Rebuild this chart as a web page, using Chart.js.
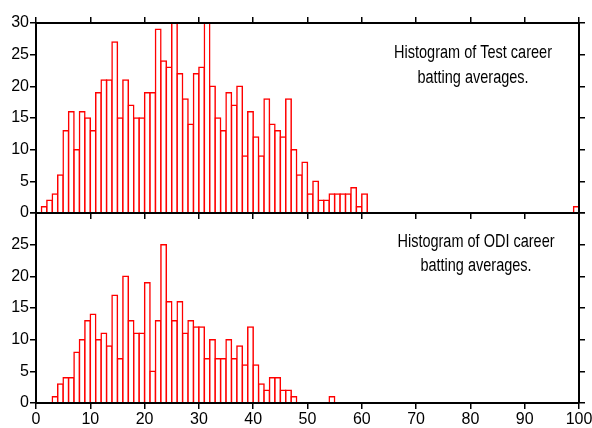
<!DOCTYPE html>
<html>
<head>
<meta charset="utf-8">
<script src="https://cdn.jsdelivr.net/npm/chart.js@4/dist/chart.umd.min.js"></script>
<style>
  html, body { margin: 0; background: #fff; }
  #wrap { position: relative; width: 592px; height: 428px; }
  #wrap canvas { position: absolute; left: 0; top: 0; }
</style>
</head>
<body>
<div id="wrap">
  <canvas id="graficoTest" width="592" height="428"></canvas>
  <canvas id="graficoOdi" width="592" height="428"></canvas>
</div>
<script>
// one bin per unit of batting average, 0..100
const bins = Array.from({ length: 100 }, (_, i) => i + 0.5);

const testCounts = [
  0, 1, 2, 3, 6, 13, 16, 10, 16, 15,
  13, 19, 21, 21, 27, 15, 21, 17, 15, 15,
  19, 19, 29, 24, 23, 30, 22, 18, 14, 22,
  23, 30, 20, 15, 13, 19, 17, 20, 9, 16,
  12, 9, 18, 14, 13, 12, 18, 10, 6, 8,
  3, 5, 2, 2, 3, 3, 3, 3, 4, 1,
  3, 0, 0, 0, 0, 0, 0, 0, 0, 0,
  0, 0, 0, 0, 0, 0, 0, 0, 0, 0,
  0, 0, 0, 0, 0, 0, 0, 0, 0, 0,
  0, 0, 0, 0, 0, 0, 0, 0, 0, 1
];

const odiCounts = [
  0, 0, 0, 1, 3, 4, 4, 8, 10, 13,
  14, 10, 11, 9, 17, 7, 20, 13, 11, 11,
  19, 5, 13, 25, 16, 13, 16, 11, 13, 12,
  12, 7, 10, 7, 7, 10, 7, 9, 6, 12,
  6, 3, 2, 4, 4, 2, 2, 1, 0, 0,
  0, 0, 0, 0, 1, 0, 0, 0, 0, 0,
  0, 0, 0, 0, 0, 0, 0, 0, 0, 0,
  0, 0, 0, 0, 0, 0, 0, 0, 0, 0,
  0, 0, 0, 0, 0, 0, 0, 0, 0, 0,
  0, 0, 0, 0, 0, 0, 0, 0, 0, 0
];

const xTicks = [0, 10, 20, 30, 40, 50, 60, 70, 80, 90, 100];
const yTicks = [0, 5, 10, 15, 20, 25, 30];

const testTitle = ["Histogram of Test career", "batting averages."];
const odiTitle = ["Histogram of ODI career", "batting averages."];

const FONT = '"Liberation Sans", Arial, sans-serif';
Chart.defaults.font.family = FONT;
Chart.defaults.font.size = 16;
Chart.defaults.color = "#000";

// texto dentro del panel (algo estirado en vertical, como el original)
const rotulo = {
  id: "rotulo",
  afterDraw(chart, args, opts) {
    const { ctx, chartArea } = chart;
    ctx.save();
    ctx.font = "14.5px " + FONT;
    ctx.fillStyle = "#000";
    ctx.textAlign = "center";
    ctx.textBaseline = "middle";
    opts.lines.forEach((t, i) => {
      ctx.save();
      ctx.translate(chartArea.right - opts.dx, chartArea.top + opts.dy + i * opts.gap);
      ctx.scale(1, 1.3);
      ctx.fillText(t, 0, 0);
      ctx.restore();
    });
    ctx.restore();
  }
};

function eje(pos, size, extra) {
  return Object.assign({
    type: "linear",
    position: pos,
    offset: false,
    grid: { offset: false, drawOnChartArea: false, color: "#000", tickLength: 6, lineWidth: 1.5 },
    border: { color: "#000", width: 2, z: 1 },
    afterFit(s) {
      if (s.isHorizontal()) s.height = size; else s.width = size;
      s.paddingLeft = s.paddingRight = s.paddingTop = s.paddingBottom = 0;
    }
  }, extra);
}

function crearPanel(id, counts, lines, cfg) {
  const xTickSet = s => { s.ticks = xTicks.map(v => ({ value: v })); };
  const yTickSet = s => { s.ticks = yTicks.map(v => ({ value: v })); };

  return new Chart(document.getElementById(id), {
    type: "bar",
    data: {
      labels: bins,
      datasets: [{
        data: counts,
        backgroundColor: "#fff",
        borderColor: "#ff0000",
        borderWidth: 1.5,
        inflateAmount: 0.75,
        barPercentage: 1,
        categoryPercentage: 1
      }]
    },
    options: {
      responsive: false,
      animation: false,
      layout: { padding: 0 },
      plugins: {
        legend: { display: false },
        tooltip: { enabled: false },
        rotulo: { lines, dx: cfg.dx, dy: cfg.dy, gap: cfg.gap }
      },
      scales: {
        x: eje("bottom", cfg.bottomH, {
          min: 0, max: 100,
          afterBuildTicks: xTickSet,
          ticks: { display: cfg.showX, padding: 1, maxRotation: 0, autoSkip: false }
        }),
        x2: eje("top", cfg.topH, {
          min: 0, max: 100,
          afterBuildTicks: xTickSet,
          ticks: { display: false },
          grid: { offset: false, drawOnChartArea: false, drawTicks: !cfg.lower, color: "#000", tickLength: 6, lineWidth: 1.5 }
        }),
        y: eje("left", 36, {
          min: 0, max: 30,
          afterBuildTicks: yTickSet,
          ticks: {
            padding: 1,
            callback: v => (cfg.lower && v === 30 ? "" : v)
          }
        }),
        y2: eje("right", 13, {
          min: 0, max: 30,
          afterBuildTicks: yTickSet,
          ticks: { display: false }
        })
      }
    },
    plugins: [rotulo]
  });
}

crearPanel("graficoTest", testCounts, testTitle,
  { topH: 23, bottomH: 428 - 213, dx: 106, dy: 30, gap: 25, showX: false, lower: false });
crearPanel("graficoOdi", odiCounts, odiTitle,
  { topH: 213, bottomH: 25, dx: 103, dy: 29, gap: 24, showX: true, lower: true });
</script>
</body>
</html>
